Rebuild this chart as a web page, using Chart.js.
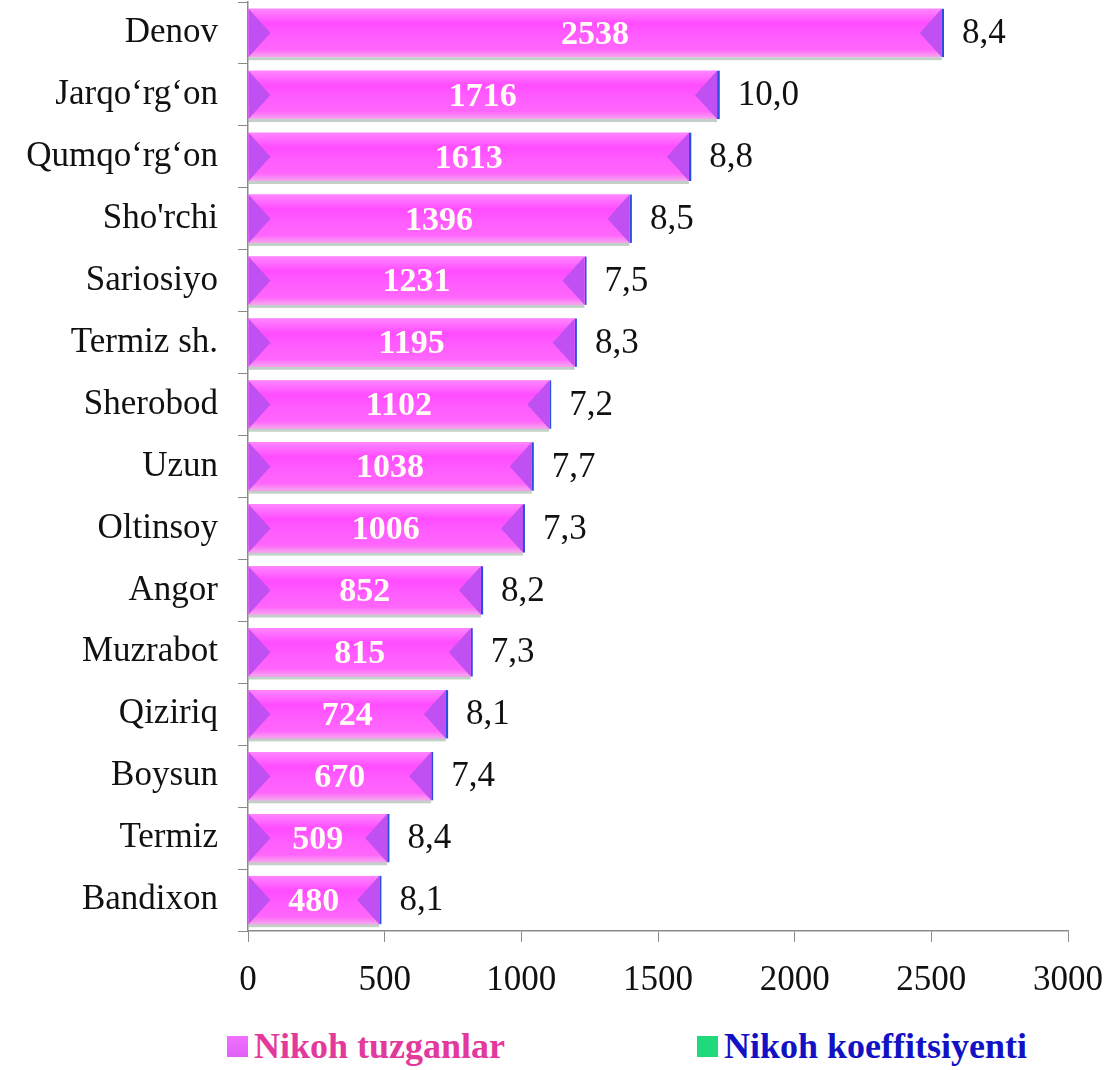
<!DOCTYPE html>
<html>
<head>
<meta charset="utf-8">
<script src="https://cdn.jsdelivr.net/npm/chart.js@4.4.1/dist/chart.umd.min.js"></script>
<style>
  html, body { margin: 0; padding: 0; background: #fff; }
  #wrap { position: relative; width: 1109px; height: 1021px; }
  .legend { position: relative; height: 49px; font-family: "Liberation Serif", serif; font-weight: bold; font-size: 36px; }
  .item { position: absolute; top: 4px; display: flex; align-items: center; }
  .box { width: 21px; height: 21px; margin-right: 6px; }
</style>
</head>
<body>
<div id="wrap"><canvas id="myChart"></canvas></div>
<div class="legend">
  <div class="item" style="left:227px;color:#e3399c"><span class="box" style="background:linear-gradient(#f070ff,#e060f8)"></span>Nikoh tuzganlar</div>
  <div class="item" style="left:697px;color:#1212c4"><span class="box" style="background:#1fd97a"></span>Nikoh koeffitsiyenti</div>
</div>
<script>
const districts = ["Denov", "Jarqo‘rg‘on", "Qumqo‘rg‘on", "Sho'rchi", "Sariosiyo", "Termiz sh.", "Sherobod",
  "Uzun", "Oltinsoy", "Angor", "Muzrabot", "Qiziriq", "Boysun", "Termiz", "Bandixon"];
const marriages = [2538, 1716, 1613, 1396, 1231, 1195, 1102, 1038, 1006, 852, 815, 724, 670, 509, 480];
const coefficient = [8.4, 10.0, 8.8, 8.5, 7.5, 8.3, 7.2, 7.7, 7.3, 8.2, 7.3, 8.1, 7.4, 8.4, 8.1];
const xTicks = [0, 500, 1000, 1500, 2000, 2500, 3000];

const serif = "'Liberation Serif', 'Times New Roman', serif";

// pink bars with purple arrow ends, values written on top
const barDecor = {
  id: "barDecor",
  afterDatasetDraw(chart, args) {
    const ctx = chart.ctx;
    if (args.index === 0) {
      args.meta.data.forEach((bar, i) => {
        const top = bar.y - bar.height / 2, h = bar.height;
        const x0 = bar.base, x1 = bar.x;
        ctx.save();
        ctx.fillStyle = "rgba(120,150,130,0.45)";
        ctx.fillRect(x0, top + h, x1 - x0, 3);
        const g = ctx.createLinearGradient(0, top, 0, top + h);
        g.addColorStop(0, "#ff86ff");
        g.addColorStop(0.3, "#ff4cff");
        g.addColorStop(0.55, "#ff5cff");
        g.addColorStop(0.85, "#ff66fb");
        g.addColorStop(1, "#f6a8ee");
        ctx.fillStyle = g;
        ctx.fillRect(x0, top, x1 - x0, h);
        ctx.fillStyle = "#c050f2";
        ctx.beginPath();
        ctx.moveTo(x0, top);
        ctx.lineTo(x0 + 22, top + h / 2);
        ctx.lineTo(x0, top + h);
        ctx.closePath();
        ctx.fill();
        ctx.beginPath();
        ctx.moveTo(x1, top);
        ctx.lineTo(x1 - 22, top + h / 2);
        ctx.lineTo(x1, top + h);
        ctx.closePath();
        ctx.fill();
        ctx.fillStyle = "#fffdf6";
        ctx.font = "bold 34px " + serif;
        ctx.textAlign = "center";
        ctx.textBaseline = "middle";
        ctx.fillText(String(marriages[i]), (x0 + x1) / 2, bar.y + 2);
        ctx.restore();
      });
    }
    if (args.index === 1) {
      args.meta.data.forEach((bar, i) => {
        ctx.save();
        ctx.fillStyle = "#111";
        ctx.font = "35px " + serif;
        ctx.textAlign = "left";
        ctx.textBaseline = "middle";
        ctx.fillText(coefficient[i].toFixed(1).replace(".", ","), bar.x + 18, bar.y + 1);
        ctx.restore();
      });
    }
  }
};

const noPad = (s) => { s.paddingTop = 0; s.paddingBottom = 0; s.paddingLeft = 0; s.paddingRight = 0; };

const config = {
  type: "bar",
  data: {
    labels: districts,
    datasets: [
      {
        label: "Nikoh tuzganlar",
        data: marriages,
        backgroundColor: "#ff55ff",
        borderWidth: 0,
        barPercentage: 0.78,
        categoryPercentage: 1,
      },
      {
        label: "Nikoh koeffitsiyenti",
        data: coefficient,
        backgroundColor: "#2a4fe0",
        borderWidth: 0,
        barPercentage: 0.78,
        categoryPercentage: 1,
      },
    ],
  },
  options: {
    indexAxis: "y",
    responsive: false,
    animation: false,
    layout: { padding: { top: 2, right: 41, bottom: 1, left: 0 } },
    plugins: { legend: { display: false }, tooltip: { enabled: false } },
    scales: {
      x: {
        stacked: true,
        min: 0,
        max: 3000,
        afterBuildTicks: (s) => { s.ticks = xTicks.map(v => ({ value: v })); },
        afterFit: noPad,
        grid: { drawOnChartArea: false, tickLength: 11, color: "#8a8a8a" },
        border: { color: "#8a8a8a", width: 1.5 },
        ticks: { color: "#111", padding: 18, maxRotation: 0, font: { family: serif, size: 35 },
          callback: (v) => String(v) },
      },
      y: {
        stacked: true,
        afterFit: (s) => { s.width = 248; noPad(s); },
        grid: { drawOnChartArea: false, tickLength: 10, color: "#8a8a8a", offset: true },
        border: { color: "#8a8a8a", width: 1.5 },
        ticks: { color: "#111", padding: 20, autoSkip: false, font: { family: serif, size: 35 } },
      },
    },
  },
  plugins: [barDecor],
};

const canvas = document.getElementById("myChart");
canvas.width = 1109;
canvas.height = 1021;
const myChart = new Chart(canvas, config);
</script>
</body>
</html>
